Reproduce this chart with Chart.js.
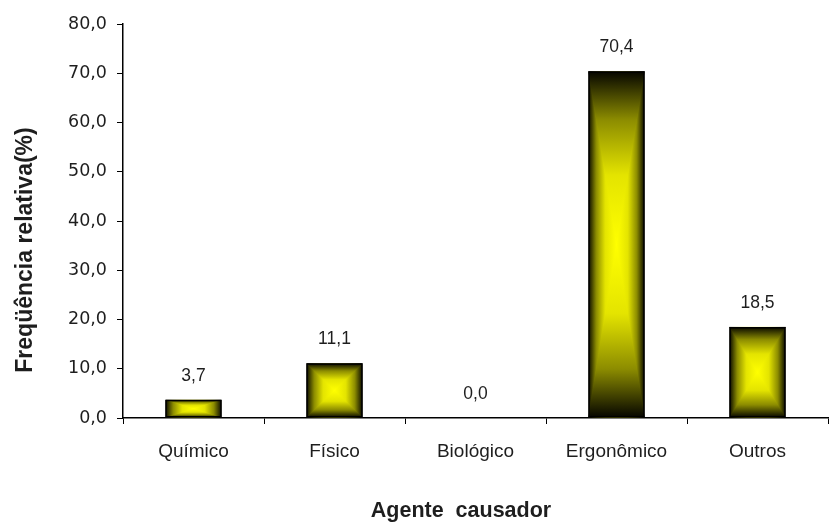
<!DOCTYPE html>
<html>
<head>
<meta charset="utf-8">
<script src="https://cdn.jsdelivr.net/npm/chart.js@4.4.1/dist/chart.umd.min.js"></script>
<style>
  html, body { margin: 0; padding: 0; background: #ffffff; }
  #wrap { width: 830px; height: 524px; }
</style>
</head>
<body>
<div id="wrap"><canvas id="c" width="830" height="524"></canvas></div>
<script>
// Agentes causadores e frequência relativa (%)
const categories = ['Químico', 'Físico', 'Biológico', 'Ergonômico', 'Outros'];
const frequencias = [3.7, 11.1, 0.0, 70.4, 18.5];
const yTicks = [0, 10, 20, 30, 40, 50, 60, 70, 80];
const yTitle = 'Freqüência relativa(%)';
const xTitle = 'Agente  causador';

const fmt = v => v.toFixed(1).replace('.', ',');
const FONT = "'Liberation Sans', Arial, Helvetica, sans-serif";
const TEXT = '#1e1e1e';

// Preenchimento "do centro": amarelo no meio escurecendo até as bordas
function fillBoxGradient(ctx, l, t, r, b) {
  const w = r - l, h = b - t;
  if (w <= 0 || h <= 0) return;
  const cx = l + w / 2, cy = t + h / 2;
  const stops = [[0, '#ffff00'], [0.4, '#e4e400'], [0.72, '#8c8c00'], [1, '#050500']];
  const mk = (x0, y0, x1, y1, mirror) => {
    const g = ctx.createLinearGradient(x0, y0, x1, y1);
    if (mirror) {
      stops.slice().reverse().forEach(([s, c]) => g.addColorStop(0.5 - s / 2, c));
      stops.forEach(([s, c]) => { if (s > 0) g.addColorStop(0.5 + s / 2, c); });
    } else {
      stops.forEach(([s, c]) => g.addColorStop(s, c));
    }
    return g;
  };
  ctx.save();
  // laterais
  ctx.fillStyle = mk(l, 0, r, 0, true);
  ctx.fillRect(l, t, w, h);
  // triângulo superior
  ctx.beginPath();
  ctx.moveTo(l, t); ctx.lineTo(r, t); ctx.lineTo(cx, cy); ctx.closePath();
  ctx.fillStyle = mk(0, cy, 0, t, false);
  ctx.fill();
  // triângulo inferior
  ctx.beginPath();
  ctx.moveTo(l, b); ctx.lineTo(r, b); ctx.lineTo(cx, cy); ctx.closePath();
  ctx.fillStyle = mk(0, cy, 0, b, false);
  ctx.fill();
  ctx.restore();
}

const barFillPlugin = {
  id: 'barFill',
  beforeDatasetDraw(chart, args) {
    const ctx = chart.ctx;
    args.meta.data.forEach(bar => {
      const p = bar.getProps(['x', 'y', 'base', 'width'], true);
      const l = p.x - p.width / 2, r = p.x + p.width / 2;
      const t = Math.min(p.y, p.base), b = Math.max(p.y, p.base);
      fillBoxGradient(ctx, l, t, r, b);
    });
  }
};

const valueLabelPlugin = {
  id: 'valueLabels',
  afterDatasetsDraw(chart) {
    const ctx = chart.ctx;
    const meta = chart.getDatasetMeta(0);
    ctx.save();
    ctx.font = '17.5px ' + FONT;
    ctx.fillStyle = TEXT;
    ctx.textAlign = 'center';
    ctx.textBaseline = 'alphabetic';
    meta.data.forEach((bar, i) => {
      ctx.fillText(fmt(frequencias[i]), bar.x, bar.y - 19);
    });
    ctx.restore();
  }
};

// Títulos dos eixos
const axisTitlePlugin = {
  id: 'axisTitles',
  afterDraw(chart) {
    const ctx = chart.ctx;
    const area = chart.chartArea;
    ctx.save();
    ctx.fillStyle = TEXT;
    ctx.textAlign = 'center';
    ctx.font = 'bold 23px ' + FONT;
    ctx.textBaseline = 'alphabetic';
    ctx.translate(32, area.top + 226);
    ctx.rotate(-Math.PI / 2);
    ctx.fillText(yTitle, 0, 0);
    ctx.restore();

    ctx.save();
    ctx.fillStyle = TEXT;
    ctx.textAlign = 'center';
    ctx.textBaseline = 'alphabetic';
    ctx.font = 'bold 21.5px ' + FONT;
    ctx.fillText(xTitle, area.left + 338, 517);
    ctx.restore();
  }
};

new Chart(document.getElementById('c'), {
  type: 'bar',
  data: {
    labels: categories,
    datasets: [{
      data: frequencias,
      backgroundColor: 'rgba(0,0,0,0)',
      borderColor: '#000000',
      borderWidth: 1.5,
      borderSkipped: false,
      barPercentage: 0.4,
      categoryPercentage: 1.0
    }]
  },
  options: {
    responsive: false,
    animation: false,
    layout: { padding: { top: 24, right: 2, left: 0, bottom: 0 } },
    plugins: {
      legend: { display: false },
      tooltip: { enabled: false }
    },
    scales: {
      x: {
        offset: true,
        grid: {
          offset: true,
          drawOnChartArea: false,
          drawTicks: true,
          tickLength: 6,
          color: '#000000',
          lineWidth: 1
        },
        border: { display: true, color: '#000000', width: 1.5 },
        ticks: {
          color: TEXT,
          font: { family: FONT, size: 19 },
          padding: 16
        },
        afterFit(scale) { scale.height = 106; }
      },
      y: {
        min: 0,
        max: 80,
        afterBuildTicks(scale) { scale.ticks = yTicks.map(v => ({ value: v })); },
        grid: {
          drawOnChartArea: false,
          drawTicks: true,
          tickLength: 6,
          color: '#000000',
          lineWidth: 1
        },
        border: { display: true, color: '#000000', width: 1.5 },
        ticks: {
          color: TEXT,
          font: { family: "'DejaVu Sans', " + FONT, size: 17.5 },
          padding: 10,
          callback: v => fmt(v)
        },
        afterFit(scale) { scale.width = 123; }
      }
    }
  },
  plugins: [barFillPlugin, valueLabelPlugin, axisTitlePlugin]
});
</script>
</body>
</html>
